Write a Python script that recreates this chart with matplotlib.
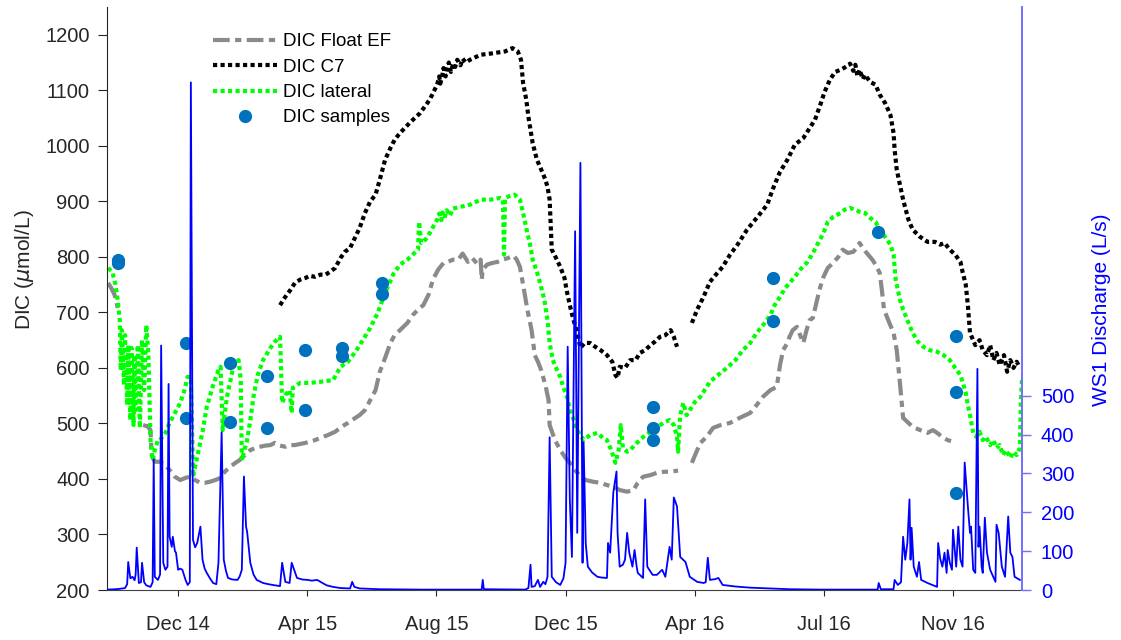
import numpy as np
import matplotlib
matplotlib.use('Agg')
import matplotlib.pyplot as plt
import matplotlib.dates as mdates
from datetime import datetime

plt.rcParams['font.family'] = ['Liberation Sans', 'DejaVu Sans']
plt.rcParams['mathtext.fontset'] = 'dejavusans'

# ---------------- data (day offsets from 2014-12-01, values) ----------------
base_date = datetime(2014, 12, 1)

float_ef_a = [(-66, 753), (-63, 744), (-60, 732), (-58, 719), (-57, 708)]
float_ef_b = [(-33, 497), (-29, 495), (-26, 488), (-25, 443), (-22, 431), (-17, 431), (-12, 425), (-8, 416),
              (-3, 404), (2, 398), (7, 402), (11, 404), (16, 398), (21, 393), (25, 393), (30, 395), (35, 398),
              (40, 402), (44, 413), (49, 422), (54, 429), (58, 434), (63, 443), (68, 452), (73, 456), (77, 458),
              (82, 460), (87, 461), (91, 465), (96, 460), (101, 458), (105, 461), (110, 461), (115, 463),
              (120, 465), (124, 467), (129, 470), (134, 474), (141, 479), (148, 485), (154, 494), (160, 501),
              (167, 510), (171, 515), (176, 524), (181, 542), (186, 560), (190, 593), (195, 618), (200, 645),
              (204, 659), (209, 668), (216, 681), (221, 695), (226, 705), (231, 713), (236, 732), (240, 759),
              (245, 777), (250, 789), (254, 791), (259, 795), (264, 795), (268, 806), (273, 791), (277, 798),
              (282, 787), (285, 795), (286, 759), (287, 777), (291, 786), (296, 789), (301, 791), (306, 795),
              (311, 798), (316, 802), (319, 795), (322, 782), (325, 750), (329, 705), (333, 668), (336, 623),
              (339, 611), (342, 596), (346, 569), (349, 542), (350, 497), (355, 470), (360, 452), (365, 438),
              (369, 429), (374, 416), (379, 404), (384, 398), (391, 395), (398, 393), (404, 389), (410, 386),
              (416, 380), (423, 377), (429, 380), (433, 393), (438, 404), (445, 407), (451, 411), (458, 413),
              (463, 413), (471, 415)]
float_ef_c = [(484, 429), (487, 443), (492, 465), (498, 476), (504, 492), (511, 497), (520, 501), (529, 510),
              (539, 519), (545, 533), (551, 548), (558, 560), (564, 566), (567, 605), (570, 632), (574, 645),
              (576, 656), (579, 668), (583, 674), (586, 659), (589, 645), (592, 668), (595, 686), (598, 690),
              (602, 723), (605, 746), (608, 764), (612, 780), (617, 789), (622, 800), (626, 813), (631, 807),
              (636, 809), (640, 818), (642, 825), (646, 813), (650, 804), (654, 795), (657, 786), (661, 771),
              (663, 740), (665, 705), (669, 686), (674, 663), (677, 632), (680, 573), (683, 510), (688, 501),
              (692, 494), (699, 488), (706, 483), (711, 488), (715, 483), (721, 474), (725, 470), (730, 467)]

c7_a = [(96, 713), (101, 728), (106, 741), (110, 753), (115, 759), (120, 762), (124, 766), (129, 764),
        (134, 768), (139, 768), (143, 773), (148, 780), (153, 798), (157, 809), (162, 816), (167, 836),
        (171, 852), (176, 879), (181, 900), (186, 912), (190, 939), (195, 975), (200, 996), (204, 1011),
        (209, 1023), (219, 1043), (228, 1059), (237, 1083), (244, 1110), (246, 1125), (247, 1112), (249, 1128),
        (250, 1140), (252, 1125), (253, 1137), (255, 1150), (257, 1133), (259, 1148), (261, 1142), (263, 1155),
        (266, 1145), (268, 1157), (271, 1150), (275, 1155), (285, 1164), (294, 1166), (301, 1168), (308, 1170),
        (315, 1176), (320, 1170), (323, 1155), (325, 1113), (328, 1083), (330, 1052), (334, 1005), (338, 975),
        (341, 962), (346, 939), (348, 926), (350, 903), (351, 858), (352, 813), (356, 798), (360, 782),
        (364, 762), (366, 740), (369, 713), (372, 690), (376, 663), (379, 636), (383, 645), (388, 645),
        (393, 638), (398, 632), (404, 623), (409, 611), (412, 587), (414, 582), (416, 602), (421, 600),
        (426, 614), (431, 614), (435, 627), (440, 632), (445, 641), (449, 647), (454, 656), (459, 659),
        (464, 668), (467, 656), (470, 638)]
c7_b = [(484, 681), (489, 705), (495, 728), (501, 755), (508, 771), (513, 782), (520, 804), (527, 822),
        (536, 849), (545, 870), (555, 894), (560, 921), (567, 953), (574, 975), (581, 1002), (589, 1014),
        (595, 1032), (600, 1047), (605, 1074), (609, 1097), (614, 1119), (619, 1133), (624, 1137), (628, 1141),
        (633, 1148), (636, 1135), (638, 1146), (640, 1125), (642, 1137), (645, 1120), (647, 1128), (652, 1115),
        (657, 1110), (661, 1092), (666, 1077), (671, 1056), (674, 1023), (675, 993), (677, 957), (680, 930),
        (683, 903), (688, 867), (692, 849), (699, 836), (706, 827), (713, 827), (718, 822), (722, 825),
        (727, 813), (732, 804), (737, 791), (739, 773), (742, 750), (744, 713), (746, 663), (751, 641),
        (755, 650), (758, 632), (762, 623), (765, 641), (768, 614), (771, 627), (774, 605), (778, 623),
        (781, 593), (784, 614), (787, 600), (790, 611), (793, 600)]

lateral = [(-66, 780), (-62, 773), (-59, 750), (-57, 723), (-55, 686), (-54, 596), (-53, 668), (-51, 569),
           (-50, 659), (-48, 533), (-47, 641), (-45, 506), (-44, 636), (-42, 497), (-41, 623), (-40, 524),
           (-38, 641), (-36, 492), (-34, 650), (-32, 560), (-30, 677), (-28, 623), (-26, 470), (-24, 434),
           (-22, 452), (-19, 470), (-17, 470), (-12, 483), (-8, 501), (-3, 519), (2, 537), (6, 560), (9, 584),
           (12, 582), (13, 506), (14, 404), (18, 440), (23, 485), (27, 530), (33, 569), (38, 596), (40, 602),
           (41, 542), (42, 488), (46, 548), (52, 602), (57, 614), (59, 578), (60, 434), (65, 470), (68, 506),
           (71, 548), (75, 587), (80, 614), (87, 636), (91, 647), (96, 656), (97, 596), (98, 537), (101, 551),
           (105, 560), (107, 519), (108, 564), (115, 573), (124, 573), (134, 575), (146, 578), (153, 602),
           (160, 611), (167, 629), (173, 647), (181, 672), (188, 699), (195, 735), (203, 770), (209, 786),
           (216, 795), (221, 804), (226, 813), (227, 863), (229, 825), (233, 831), (237, 843), (244, 867),
           (246, 878), (248, 866), (249, 880), (251, 870), (253, 884), (256, 874), (259, 887), (266, 890),
           (275, 894), (285, 903), (294, 903), (303, 906), (306, 903), (307, 804), (308, 906), (313, 910),
           (317, 912), (322, 903), (325, 879), (329, 843), (332, 818), (334, 795), (338, 773), (341, 753),
           (345, 723), (348, 686), (350, 645), (353, 614), (357, 596), (360, 584), (363, 564), (366, 551),
           (369, 524), (372, 510), (376, 488), (379, 479), (382, 470), (388, 479), (395, 483), (400, 474),
           (404, 470), (408, 452), (412, 429), (415, 452), (417, 497), (419, 456), (423, 449), (426, 452),
           (430, 461), (435, 470), (440, 479), (445, 485), (449, 492), (454, 497), (459, 503), (463, 506),
           (467, 497), (470, 476), (471, 449), (473, 515), (476, 537), (479, 515), (482, 524), (487, 539),
           (492, 548), (496, 560), (501, 575), (511, 591), (517, 600), (525, 614), (532, 632), (539, 645),
           (545, 663), (551, 677), (558, 695), (562, 713), (567, 728), (572, 744), (576, 753), (581, 764),
           (586, 777), (593, 791), (598, 807), (603, 825), (608, 843), (612, 863), (617, 872), (624, 879),
           (628, 885), (633, 888), (638, 885), (642, 881), (647, 879), (652, 870), (657, 863), (661, 849),
           (666, 836), (671, 822), (674, 804), (676, 759), (680, 723), (683, 705), (687, 686), (692, 663),
           (697, 647), (702, 638), (708, 632), (715, 629), (721, 623), (727, 614), (732, 600), (737, 587),
           (739, 575), (742, 555), (744, 533), (746, 515), (749, 483), (752, 476), (755, 485), (758, 470),
           (761, 476), (765, 461), (768, 470), (771, 456), (774, 461), (777, 443), (780, 452), (784, 438),
           (787, 449), (790, 443), (793, 456), (794, 542), (795, 578)]

samples = [(-57, 795), (-57, 789), (7, 645), (7, 510), (49, 609), (49, 503), (84, 586), (84, 492),
           (120, 632), (120, 524), (154, 636), (154, 622), (192, 753), (192, 733), (447, 530), (447, 492),
           (447, 470), (560, 762), (560, 685), (659, 845), (733, 658), (733, 557), (733, 375)]

discharge = [(-67, 1), (-59, 2), (-55, 3), (-50, 5), (-48, 15), (-47, 72), (-45, 30), (-43, 34), (-41, 25),
             (-40, 40), (-39, 109), (-37, 18), (-35, 20), (-34, 70), (-32, 20), (-30, 12), (-26, 8), (-24, 20),
             (-23, 336), (-22, 34), (-19, 26), (-17, 40), (-16, 629), (-14, 70), (-12, 52), (-10, 60), (-9, 530),
             (-8, 137), (-6, 111), (-5, 137), (-3, 100), (-2, 96), (0, 52), (2, 55), (4, 52), (7, 26), (9, 13),
             (11, 20), (12, 1306), (14, 129), (16, 110), (18, 121), (21, 163), (23, 78), (25, 55), (27, 44),
             (30, 30), (33, 18), (36, 15), (38, 70), (41, 406), (43, 78), (45, 50), (47, 31), (51, 27), (56, 26),
             (58, 35), (60, 52), (62, 292), (64, 163), (65, 150), (68, 70), (71, 40), (74, 26), (80, 18), (85, 15),
             (89, 13), (96, 10), (98, 70), (101, 21), (105, 18), (107, 70), (112, 31), (117, 27), (122, 26),
             (126, 24), (131, 26), (136, 18), (140, 12), (146, 8), (153, 5), (162, 4), (164, 21), (166, 8),
             (171, 4), (190, 2), (228, 1), (286, 1), (287, 26), (288, 2), (327, 1), (330, 5), (332, 65), (333, 8),
             (336, 10), (339, 26), (341, 8), (344, 21), (346, 15), (348, 34), (350, 393), (351, 207), (352, 34),
             (356, 20), (360, 13), (363, 30), (365, 70), (367, 626), (369, 233), (371, 85), (374, 923), (376, 147),
             (379, 1099), (381, 70), (382, 380), (384, 120), (386, 60), (390, 45), (395, 34), (399, 32), (404, 31),
             (405, 121), (407, 96), (410, 251), (413, 305), (414, 147), (416, 60), (419, 65), (421, 78), (423, 147),
             (425, 96), (428, 60), (430, 103), (432, 60), (433, 44), (438, 31), (440, 233), (442, 60), (447, 39),
             (451, 39), (456, 52), (459, 34), (463, 111), (465, 78), (467, 238), (470, 215), (473, 85), (478, 72),
             (482, 34), (489, 21), (495, 18), (497, 20), (499, 83), (501, 26), (506, 28), (509, 31), (513, 13),
             (525, 9), (539, 6), (558, 4), (576, 2), (605, 1), (659, 1), (660, 18), (662, 2), (674, 2), (675, 26),
             (678, 13), (681, 20), (683, 137), (685, 78), (687, 121), (689, 233), (690, 78), (691, 160), (693, 60),
             (696, 34), (698, 72), (700, 26), (706, 18), (715, 8), (716, 121), (718, 80), (720, 60), (722, 96),
             (724, 44), (725, 103), (727, 70), (729, 52), (730, 155), (733, 60), (735, 163), (737, 78), (739, 60),
             (741, 328), (744, 215), (746, 147), (747, 163), (749, 52), (751, 44), (753, 569), (754, 111),
             (755, 163), (757, 60), (758, 44), (760, 186), (762, 96), (765, 52), (770, 21), (771, 168), (773, 147),
             (776, 60), (779, 34), (782, 189), (784, 96), (786, 85), (788, 34), (793, 26)]

tick_labels = ['Dec 14', 'Apr 15', 'Aug 15', 'Dec 15', 'Apr 16', 'Jul 16', 'Nov 16']
left_ticks = [200, 300, 400, 500, 600, 700, 800, 900, 1000, 1100, 1200]
right_ticks = [0, 100, 200, 300, 400, 500]

# ---------------- plotting ----------------
b0 = mdates.date2num(base_date)


def xy(pts):
    a = np.array(pts, dtype=float)
    return b0 + a[:, 0], a[:, 1]


fig = plt.figure(figsize=(11.21, 6.4), dpi=100)
ax = fig.add_axes([107 / 1121, 50 / 640, 915 / 1121, 583 / 640])
ax2 = ax.twinx()

gray_ls = (0, (4, 1.3, 1.5, 1.3))
dot_ls = (0, (1, 0.8))
gray_c = '#8a8a8a'
h_ef = None
for seg in (float_ef_a, float_ef_b, float_ef_c):
    x, y = xy(seg)
    h_ef, = ax.plot(x, y, color=gray_c, lw=3, ls=gray_ls)
for seg in (c7_a, c7_b):
    x, y = xy(seg)
    h_c7, = ax.plot(x, y, color='black', lw=3, ls=dot_ls)
x, y = xy(lateral)
h_lat, = ax.plot(x, y, color='#00ff00', lw=3, ls=dot_ls)
x, y = xy(samples)
h_s, = ax.plot(x, y, 'o', color='#0072BD', ms=8.5, mec='#0072BD', zorder=5)

x, y = xy(discharge)
ax2.plot(x, y, color='#0000ff', lw=1.3)

ax.set_ylim(200, 1250)
ax2.set_ylim(0, 1500)
ax.set_xlim(b0 - 67, b0 + 795)

ax.set_yticks(left_ticks)
ax2.set_yticks(right_ticks)
ax.set_xticks(b0 + np.arange(len(tick_labels)) * 365 / 3)
ax.set_xticklabels(tick_labels)

txt = '#262626'
for s in ('top', 'right'):
    ax.spines[s].set_visible(False)
ax.spines['left'].set_color(txt)
ax.spines['bottom'].set_color('#404040')
for s in ('top', 'left', 'bottom'):
    ax2.spines[s].set_visible(False)
ax2.spines['right'].set_color('#7070ff')
ax2.spines['right'].set_linewidth(1.4)

ax.tick_params(axis='y', direction='out', length=6.5, width=0.8, pad=6, labelsize=14.5, colors=txt)
ax.tick_params(axis='x', direction='out', length=4, width=0.8, pad=14, labelsize=14.5, colors=txt)
ax2.tick_params(axis='y', direction='out', length=6.5, width=1.0, pad=7, labelsize=14.5,
                color='#7070ff', labelcolor='#0000ff')

ax.set_ylabel('DIC ($\\mu$mol/L)', fontsize=15, color=txt)
ax.yaxis.set_label_coords(-0.078, 0.55)
ax2.set_ylabel('WS1 Discharge (L/s)', fontsize=15, color='#0000ff')
ax2.yaxis.set_label_coords(1.077, 0.48)

ax2.legend([h_ef, h_c7, h_lat, h_s], ['DIC Float EF', 'DIC C7', 'DIC lateral', 'DIC samples'],
           loc='upper left', bbox_to_anchor=(0.116, 0.955), frameon=False, fontsize=13.5,
           handlelength=3.4, handletextpad=0.35, labelspacing=0.44, borderpad=0, borderaxespad=0)

fig.savefig('out.png', dpi=100)
